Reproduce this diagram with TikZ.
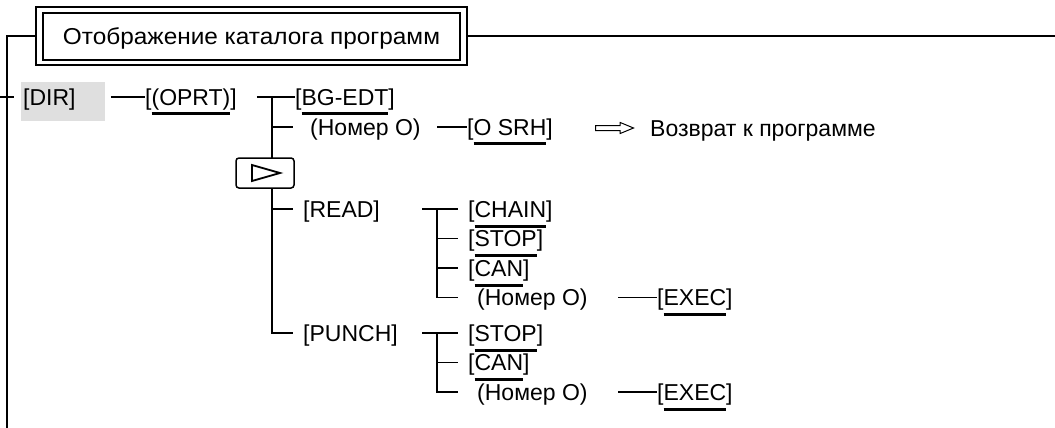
\documentclass[tikz,border=0pt]{standalone}
\usepackage{fontspec}
\setmainfont{Liberation Sans}
\usetikzlibrary{calc,shapes.arrows}

% underlined key name
\newcommand\keyul[1]{\setbox0\hbox{#1}\rlap{\rule[-10.5pt]{\wd0}{3pt}}\box0}

\tikzset{
  lbl/.style={anchor=west, inner sep=0pt, text height=17pt, text depth=1pt,
    font=\fontsize{23}{27}\selectfont},
  wire/.style={line width=1.5pt},
  frame/.style={line width=2pt},
}

\begin{document}
\begin{tikzpicture}[x=1pt,y=-1pt]
    \useasboundingbox (0,0) rectangle (1055,428);

    % Заголовок
    \node[draw, frame, minimum width=431pt, minimum height=58pt, inner sep=0pt,
      text height=20pt, text depth=2pt,
      font=\fontsize{23}{27}\selectfont\addfontfeature{FakeStretch=1.06}]
      (title) at (251.5,36) {Отображение каталога программ};
    \draw[line width=1.2pt] ($(title.north west)+(8,7)$) rectangle ($(title.south east)+(-8,-6)$);

    % Рамка
    \coordinate (frameright) at (1055,36);
    \coordinate (framebot) at (7,428);
    \draw[frame] (title.east) -- (frameright);
    \draw[frame] (title.west) -| (framebot);
    \draw[frame] (0,97) -- (14,97);

    % Первый уровень
    \fill[gray!25] (21,82) rectangle (105,121);
    \node[lbl] (dir) at (23,97) {[DIR]};
    \node[lbl] (oprt) at (145,97) {[\keyul{(OPRT)}]};
    \node[lbl] (bgedt) at (295,97) {[\keyul{BG-EDT}]};
    \node[lbl] (num1) at (310,127) {(Номер O)};
    \node[lbl] (osrh) at (467,127) {[\keyul{O SRH}]};
    \node[single arrow, draw, line width=1pt, minimum height=38pt, inner sep=2pt,
      single arrow head extend=3pt, single arrow tip angle=45, anchor=west]
      (retarr) at (595,128) {};
    \node[lbl] (ret) at (650,128) {Возврат к программе};

    \node[lbl] (read) at (303,209) {[READ]};
    \node[lbl] (punch) at (303,333) {[PUNCH]};

    % Ветка READ
    \node[lbl] (chain) at (468,209) {[\keyul{CHAIN}]};
    \node[lbl] (stopa) at (468,238.5) {[\keyul{STOP}]};
    \node[lbl] (cana) at (468,268) {[\keyul{CAN}]};
    \node[lbl] (numa) at (477,297.5) {(Номер O)};
    \node[lbl] (execa) at (657,297.5) {[\keyul{EXEC}]};

    % Ветка PUNCH
    \node[lbl] (stopb) at (468,333) {[\keyul{STOP}]};
    \node[lbl] (canb) at (468,362.5) {[\keyul{CAN}]};
    \node[lbl] (numb) at (477,392) {(Номер O)};
    \node[lbl] (execb) at (657,392) {[\keyul{EXEC}]};

    % Линии
    \coordinate (sp) at ([xshift=-23pt]bgedt.west);
    \coordinate (sra) at ([xshift=-31pt]chain.west);
    \coordinate (srb) at ([xshift=-31pt]stopb.west);
    \draw[wire] ($(dir.east)+(35,0)$) -- (oprt.west);
    \draw[wire] ($(oprt.east)+(20,0)$) -- (bgedt.west);
    \draw[wire] (sp) |- ([xshift=-10pt]punch.west);
    \draw[wire] (sp |- num1.west) -- ([xshift=-17pt]num1.west);
    \draw[wire] (sp |- read.west) -- ([xshift=-10pt]read.west);
    \draw[wire] ([xshift=-30pt]osrh.west) -- (osrh.west);

    \draw[wire] ([xshift=-15pt]sra) -- ([xshift=-10pt]chain.west);
    \draw[wire] (sra) |- ([xshift=-19pt]numa.west);
    \draw[wire] (sra |- stopa.west) -- ([xshift=-10pt]stopa.west);
    \draw[wire] (sra |- cana.west) -- ([xshift=-10pt]cana.west);
    \draw[wire] ([xshift=-39pt]execa.west) -- (execa.west);

    \draw[wire] ([xshift=-15pt]srb) -- ([xshift=-10pt]stopb.west);
    \draw[wire] (srb) |- ([xshift=-19pt]numb.west);
    \draw[wire] (srb |- canb.west) -- ([xshift=-10pt]canb.west);
    \draw[wire] ([xshift=-39pt]execb.west) -- (execb.west);

    % Клавиша следующего меню
    \node[draw, rounded corners=3pt, line width=1.5pt, fill=white,
      minimum width=58pt, minimum height=30pt] (nextkey) at (265,173) {};
    \draw[line width=1.8pt] ($(nextkey.center)+(-13,-8)$) -- ++(0,16) -- ++(28,-8) -- cycle;
\end{tikzpicture}
\end{document}
